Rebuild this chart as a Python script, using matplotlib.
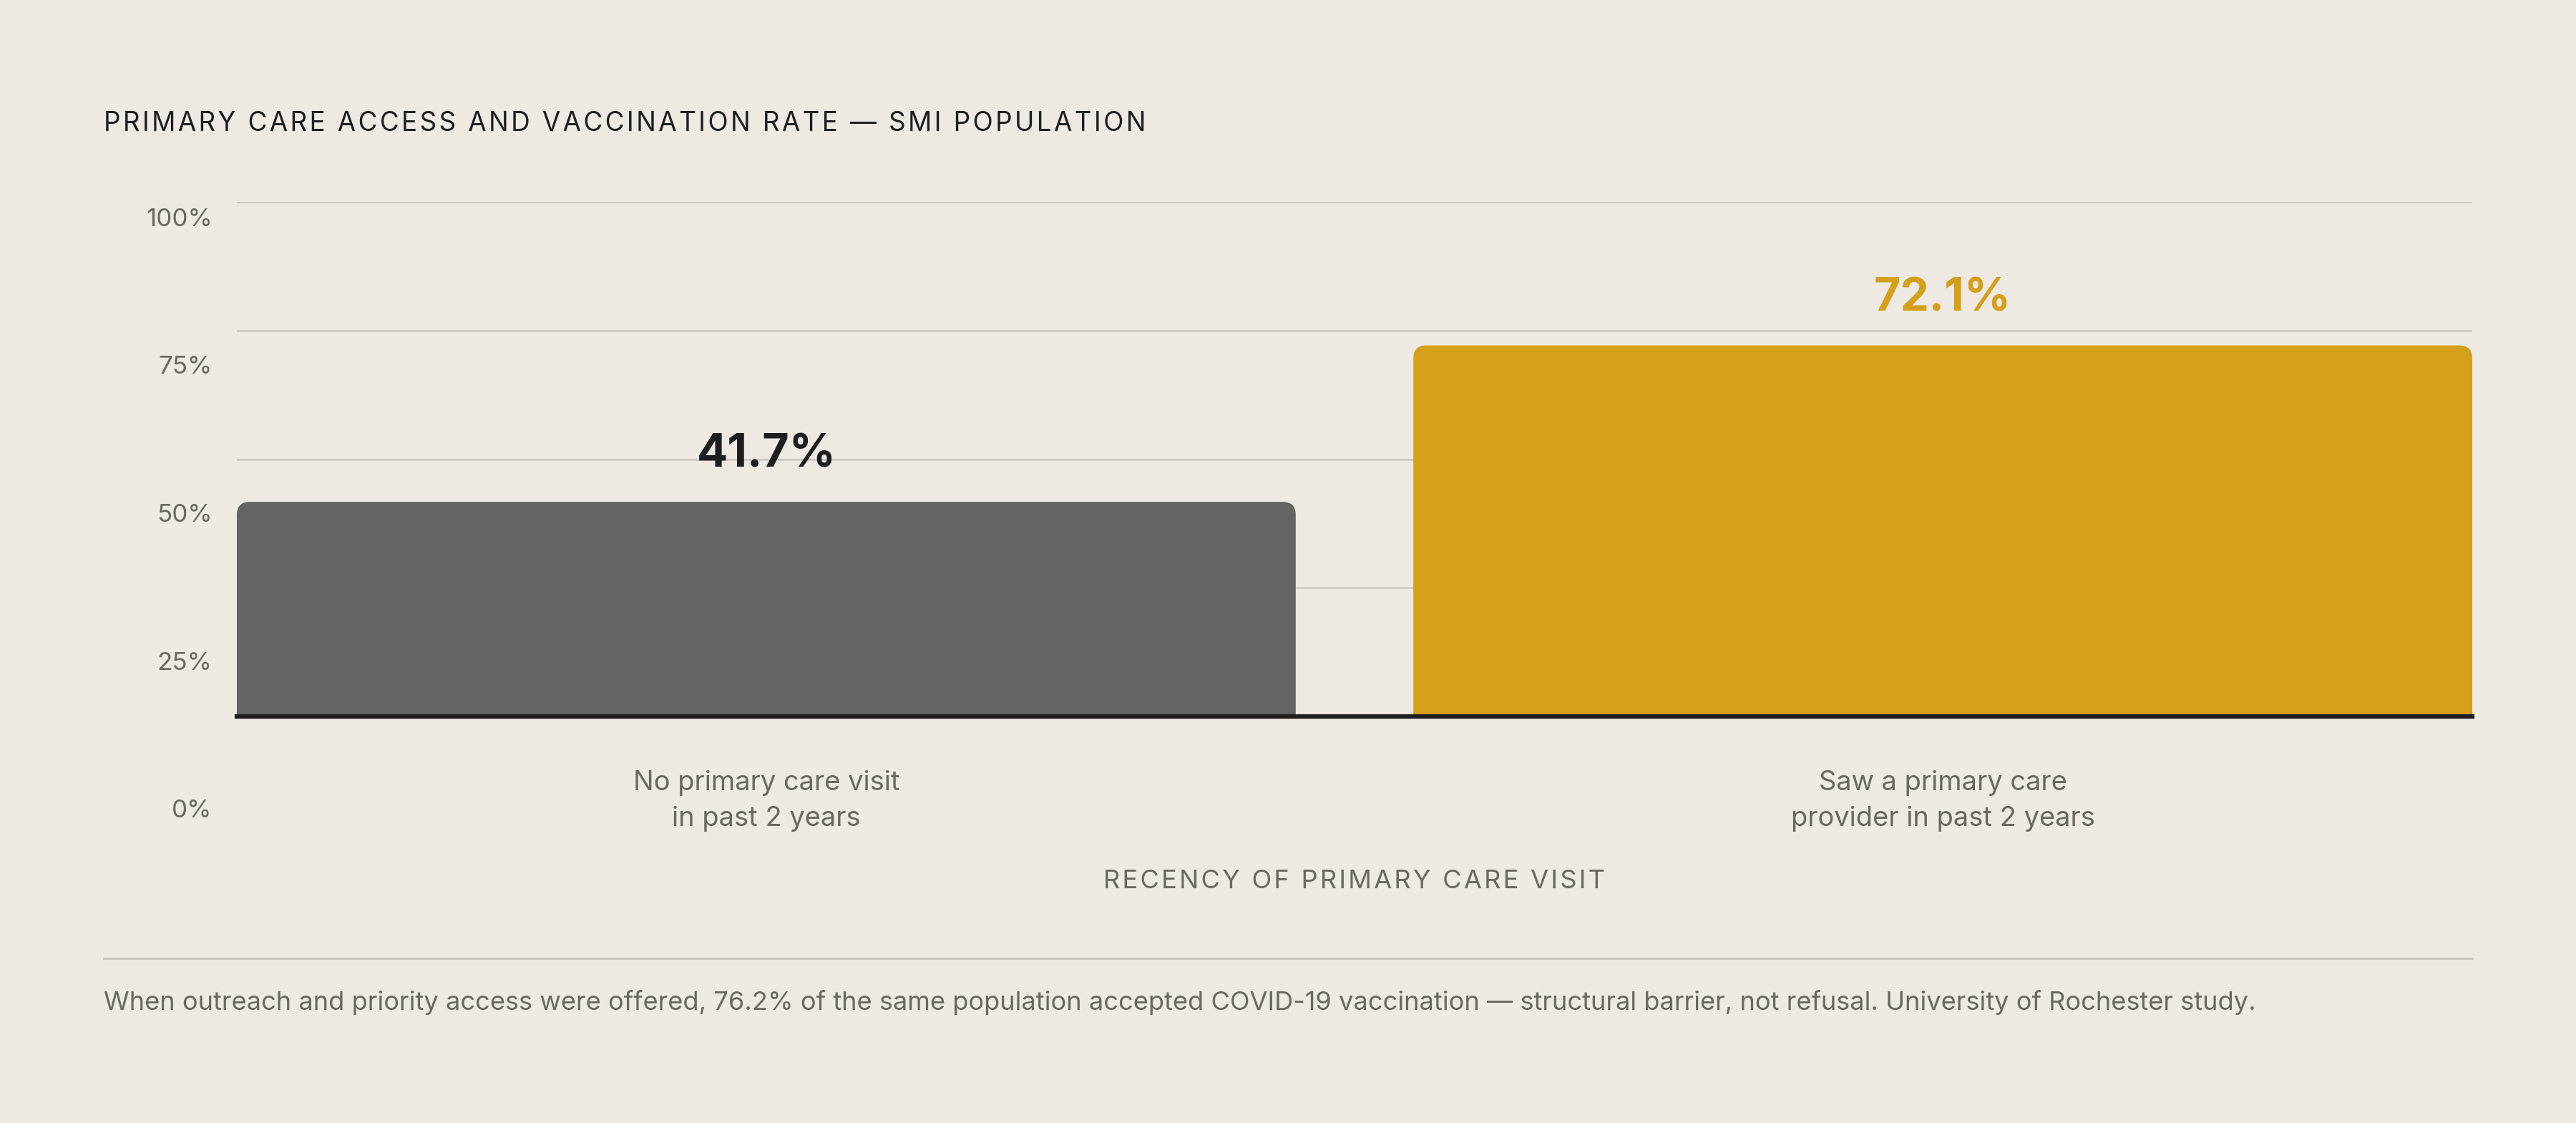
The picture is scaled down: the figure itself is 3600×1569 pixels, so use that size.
import matplotlib
matplotlib.use('Agg')
import matplotlib.pyplot as plt
from matplotlib.patches import FancyBboxPatch

# data
categories = ['No primary care visit\nin past 2 years', 'Saw a primary care\nprovider in past 2 years']
rates = [41.7, 72.1]
value_labels = ['41.7%', '72.1%']
ytick_values = [0, 25, 50, 75, 100]
ytick_labels = ['0%', '25%', '50%', '75%', '100%']

BG = '#EEEAE3'
GRID = '#C9C5BE'
DARK = '#1E1E1E'
MUTED = '#6B6863'
bar_colors = ['#666563', '#D4A01A']
label_colors = [DARK, '#D4A01A']

FONT = ['Inter', 'DejaVu Sans']
plt.rcParams['font.family'] = FONT

def spaced(s, sep='\u200a'):
    return sep.join(s)

W, H, DPI = 3600, 1569, 225
fig = plt.figure(figsize=(W / DPI, H / DPI), dpi=DPI, facecolor=BG)

left, right = 331 / W, 3455 / W
bottom, top = 1 - 1001 / H, 1 - 282 / H
ax = fig.add_axes([left, bottom, right - left, top - bottom])
ax.set_facecolor(BG)
ax.set_xlim(-0.45, 1.45)
ax.set_ylim(0, 100)

for y in ytick_values[1:]:
    ax.axhline(y, color=GRID, lw=0.8, zorder=1)

# bars with rounded top corners
bars = ax.bar(range(len(rates)), rates, width=0.9, color=bar_colors, zorder=2)
x_per_px = 1.9 / (3455 - 331)
y_per_px = 100 / (1001 - 282)
aspect = y_per_px / x_per_px
r = 18 * x_per_px
for b, c in zip(bars, bar_colors):
    x0, w, h = b.get_x(), b.get_width(), b.get_height()
    b.set_visible(False)
    p = FancyBboxPatch((x0, -10), w, h + 10,
                       boxstyle='round,pad=0,rounding_size=%f' % r,
                       mutation_aspect=aspect, fc=c, ec='none', zorder=2)
    ax.add_patch(p)

ax.axhline(0, color=DARK, lw=2.0, zorder=3, clip_on=False)

for i, (v, t, c) in enumerate(zip(rates, value_labels, label_colors)):
    ax.annotate(t, (i, v), xytext=(0, 15.5), textcoords='offset points',
                ha='center', va='baseline', fontsize=20.5, fontweight='bold', color=c)

ax.set_xticks(range(len(categories)))
ax.set_xticklabels(categories, fontsize=12.2, color=MUTED, linespacing=1.5)
ax.tick_params(axis='x', length=0, pad=24)
ax.set_yticks([])
for s in ax.spines.values():
    s.set_visible(False)
ax.set_xlabel(spaced('RECENCY OF PRIMARY CARE VISIT'), fontsize=11.6, color=MUTED, labelpad=17)

# y tick labels sit on their own, taller scale
lb, lt = 1 - 1130 / H, 1 - 303 / H
ax_y = fig.add_axes([left, lb, 0.001, lt - lb])
ax_y.set_ylim(0, 100)
ax_y.set_yticks(ytick_values)
ax_y.set_yticklabels(ytick_labels, fontsize=11.2, color=MUTED)
ax_y.tick_params(axis='y', length=0, pad=11)
ax_y.set_xticks([])
ax_y.patch.set_visible(False)
for s in ax_y.spines.values():
    s.set_visible(False)

fig.text(145 / W, 1 - 173 / H, spaced('PRIMARY CARE ACCESS AND VACCINATION RATE \u2014 SMI POPULATION'),
         fontsize=11.8, color=DARK, va='center', ha='left')

fig.add_artist(plt.Line2D([145 / W, right], [1 - 1339 / H] * 2, color=GRID, lw=0.9))
fig.text(145 / W, 1 - 1401 / H,
         'When outreach and priority access were offered, 76.2% of the same population accepted '
         'COVID-19 vaccination \u2014 structural barrier, not refusal. University of Rochester study.',
         fontsize=11.6, color=MUTED, va='center', ha='left')

fig.savefig('out.png', dpi=DPI, facecolor=BG)
